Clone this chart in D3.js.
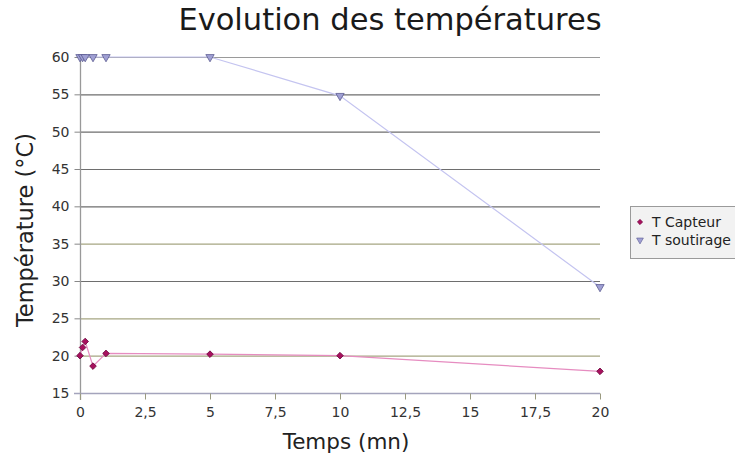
<!DOCTYPE html>
<html><head><meta charset="utf-8">
<script src="https://cdn.jsdelivr.net/npm/d3@7"></script>
<style>body{margin:0;background:#fff}svg{display:block}text{font-family:"DejaVu Sans",sans-serif}</style>
</head><body><svg id="c" width="735" height="464"></svg>
<script>
const timesCapteur = [0, 0.1, 0.2, 0.5, 1, 5, 10, 20];
const tCapteur = [20, 21.1, 21.9, 18.6, 20.3, 20.2, 20.0, 17.9];
const timesSoutirage = [0, 0.1, 0.2, 0.5, 1, 5, 10, 20];
const tSoutirage = [60, 60, 60, 60, 60, 60, 54.8, 29.2];
const xTicks = [0, 2.5, 5, 7.5, 10, 12.5, 15, 17.5, 20];
const yTicks = [15, 20, 25, 30, 35, 40, 45, 50, 55, 60];
const seriesNames = ["T Capteur", "T soutirage"];

const svg = d3.select("#c");
const x = d3.scaleLinear().domain([0, 20]).range([80, 600]);
const y = d3.scaleLinear().domain([15, 60]).range([393, 57]);
const fmt = v => String(v).replace(".", ",");

svg.append("text").attr("x", 390).attr("y", 30).attr("text-anchor", "middle")
  .attr("font-size", 30.5).attr("fill", "#1a1a1a").text("Evolution des températures");

// grid lines
const olive = new Set([35, 25, 20]);
svg.append("g").selectAll("line").data(yTicks.filter(v => v > 15)).join("line")
  .attr("x1", x(0)).attr("x2", x(20)).attr("y1", d => y(d) + 0.5).attr("y2", d => y(d) + 0.5)
  .attr("stroke", d => olive.has(d) ? "#a6a682" : (d === 60 ? "#9a9a9a" : "#6e6e6e")).attr("stroke-width", 1.2);

// y axis
const yAxis = d3.axisLeft(y).tickValues(yTicks).tickSize(6).tickPadding(5).tickFormat(fmt);
const gy = svg.append("g").attr("transform", `translate(${x(0) + 0.5},0)`).call(yAxis);
gy.select(".domain").remove();
gy.selectAll(".tick line").attr("stroke", "#888");
gy.selectAll("text").attr("font-size", 14).attr("fill", "#333");
svg.append("line").attr("x1", x(0) + 0.5).attr("x2", x(0) + 0.5).attr("y1", y(60)).attr("y2", 400)
  .attr("stroke", "#999").attr("stroke-width", 1.3);

// x axis
const xAxis = d3.axisBottom(x).tickValues(xTicks).tickSize(6).tickPadding(8).tickFormat(fmt);
const gx = svg.append("g").attr("transform", `translate(0,${y(15) + 0.5})`).call(xAxis);
gx.select(".domain").attr("stroke", "#a4a4bc").attr("stroke-width", 1.5).attr("d", `M${x(0) - 6},0H${x(20)}`);
gx.selectAll(".tick line").attr("stroke", "#9a9a80");
gx.selectAll("text").attr("font-size", 14).attr("fill", "#333");

svg.append("text").attr("x", 346).attr("y", 449).attr("text-anchor", "middle")
  .attr("font-size", 21.5).attr("fill", "#222").text("Temps (mn)");
svg.append("text").attr("transform", "translate(33,230) rotate(-90)").attr("text-anchor", "middle")
  .attr("font-size", 22.5).attr("fill", "#222").text("Température (°C)");

// series
const line = d3.line().x(d => x(d[0])).y(d => y(d[1]));
const sData = timesSoutirage.map((t, i) => [t, tSoutirage[i]]);
const cData = timesCapteur.map((t, i) => [t, tCapteur[i]]);
svg.append("path").datum(sData).attr("d", line).attr("fill", "none").attr("stroke", "#c4c4f0").attr("stroke-width", 1.2);
svg.append("path").datum(cData).attr("d", line).attr("fill", "none").attr("stroke", "#e68cc0").attr("stroke-width", 1.2);

const tri = d3.symbol().type(d3.symbolTriangle).size(30);
const dia = d3.symbol().type(d3.symbolSquare).size(22);
svg.append("g").selectAll("path").data(sData).join("path")
  .attr("d", tri).attr("transform", d => `translate(${x(d[0])},${y(d[1])}) rotate(180)`)
  .attr("fill", "#a0a0d4").attr("stroke", "#5a5a90").attr("stroke-width", 0.8);
svg.append("g").selectAll("path").data(cData).join("path")
  .attr("d", dia).attr("transform", d => `translate(${x(d[0])},${y(d[1])}) rotate(45)`)
  .attr("fill", "#a8105e").attr("stroke", "#6e0a40").attr("stroke-width", 0.8);

// legend
const lg = svg.append("g");
lg.append("rect").attr("x", 630.5).attr("y", 206.5).attr("width", 120).attr("height", 52)
  .attr("fill", "#f2f2f2").attr("stroke", "#9a9a9a");
lg.append("path").attr("d", d3.symbol().type(d3.symbolSquare).size(14)).attr("transform", "translate(640,222) rotate(45)").attr("fill", "#a8105e").attr("stroke", "#6e0a40").attr("stroke-width", 0.6);
lg.append("path").attr("d", d3.symbol().type(d3.symbolTriangle).size(20)).attr("transform", "translate(640,240) rotate(180)").attr("fill", "#a0a0d4").attr("stroke", "#5a5a90").attr("stroke-width", 0.6);
lg.selectAll("text.l").data(seriesNames).join("text").attr("class", "l")
  .attr("x", 652).attr("y", (d, i) => 227 + i * 18).attr("font-size", 14).attr("fill", "#222").text(d => d);
</script></body></html>
